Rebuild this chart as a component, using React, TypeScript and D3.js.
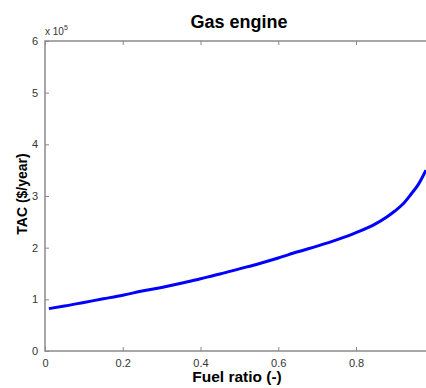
import * as d3 from "d3";
import React, { useEffect, useRef } from "react";

const fuelRatio = [0.01, 0.05, 0.1, 0.15, 0.2, 0.25, 0.3, 0.35, 0.4, 0.45, 0.5, 0.55, 0.6, 0.65, 0.7, 0.75, 0.8, 0.85, 0.88, 0.9, 0.92, 0.94, 0.96, 0.98];
const tac = [0.82, 0.87, 0.94, 1.01, 1.08, 1.16, 1.23, 1.31, 1.4, 1.49, 1.59, 1.69, 1.8, 1.92, 2.03, 2.15, 2.29, 2.46, 2.6, 2.71, 2.84, 3.02, 3.22, 3.5];
const xTicks = [0, 0.2, 0.4, 0.6, 0.8];
const yTicks = [0, 1, 2, 3, 4, 5, 6];

const W = 426;
const H = 388;

const App: React.FC = () => {
  const ref = useRef<SVGSVGElement>(null);

  useEffect(() => {
    const svg = d3.select(ref.current);
    svg.selectAll("*").remove();

    const margin = { top: 41, right: 0, bottom: 37, left: 45 };
    const xScale = d3.scaleLinear().domain([0, 0.98]).range([margin.left, W - margin.right]);
    const yScale = d3.scaleLinear().domain([0, 6]).range([H - margin.bottom, margin.top]);
    const axisColor = "#8a8a8a";
    const font = "Liberation Sans, Arial, sans-serif";

    // frame
    svg
      .append("rect")
      .attr("x", margin.left)
      .attr("y", margin.top)
      .attr("width", W - margin.left - margin.right + 5)
      .attr("height", H - margin.top - margin.bottom)
      .attr("fill", "white")
      .attr("stroke", axisColor)
      .attr("stroke-width", 1.5);

    const styleAxis = (g: d3.Selection<SVGGElement, unknown, null, undefined>) => {
      g.select(".domain").remove();
      g.selectAll("line").attr("stroke", axisColor);
      g.selectAll("text").attr("fill", "#333").attr("font-family", font).attr("font-size", 11);
    };

    svg
      .append("g")
      .attr("transform", `translate(0,${H - margin.bottom})`)
      .call(d3.axisBottom(xScale).tickValues(xTicks).tickSize(-4).tickPadding(8).tickFormat((d) => (d === 0 ? "0" : d3.format(".1f")(d as number))))
      .call(styleAxis);

    svg
      .append("g")
      .attr("transform", `translate(0,${margin.top})`)
      .call(d3.axisTop(xScale).tickValues(xTicks).tickSize(-4).tickFormat(() => ""))
      .call(styleAxis);

    svg
      .append("g")
      .attr("transform", `translate(${margin.left},0)`)
      .call(d3.axisLeft(yScale).tickValues(yTicks).tickSize(-4).tickPadding(7).tickFormat(d3.format("d")))
      .call(styleAxis);

    // exponent label
    const ex = svg
      .append("text")
      .attr("x", margin.left)
      .attr("y", margin.top - 6)
      .attr("font-family", font)
      .attr("font-size", 10)
      .attr("fill", "#333");
    ex.append("tspan").text("x 10");
    ex.append("tspan").attr("font-size", 7).attr("dy", -5).text("5");

    const line = d3
      .line<number>()
      .x((d, i) => xScale(fuelRatio[i]))
      .y((d) => yScale(d))
      .curve(d3.curveMonotoneX);

    svg
      .append("path")
      .datum(tac)
      .attr("d", line)
      .attr("fill", "none")
      .attr("stroke", "#0000ff")
      .attr("stroke-width", 3);

    svg
      .append("text")
      .attr("x", 239)
      .attr("y", 28)
      .attr("text-anchor", "middle")
      .attr("font-family", font)
      .attr("font-weight", "bold")
      .attr("font-size", 18)
      .text("Gas engine");

    svg
      .append("text")
      .attr("x", 237)
      .attr("y", 382)
      .attr("text-anchor", "middle")
      .attr("font-family", font)
      .attr("font-weight", "bold")
      .attr("font-size", 15.5)
      .text("Fuel ratio (-)");

    svg
      .append("text")
      .attr("transform", "translate(27,194) rotate(-90)")
      .attr("text-anchor", "middle")
      .attr("font-family", font)
      .attr("font-weight", "bold")
      .attr("font-size", 14)
      .text("TAC ($/year)");
  }, []);

  return (
    <svg
      ref={ref}
      width={W}
      height={H}
      style={{ position: "absolute", left: 0, top: 0, background: "white" }}
    />
  );
};

export default App;
